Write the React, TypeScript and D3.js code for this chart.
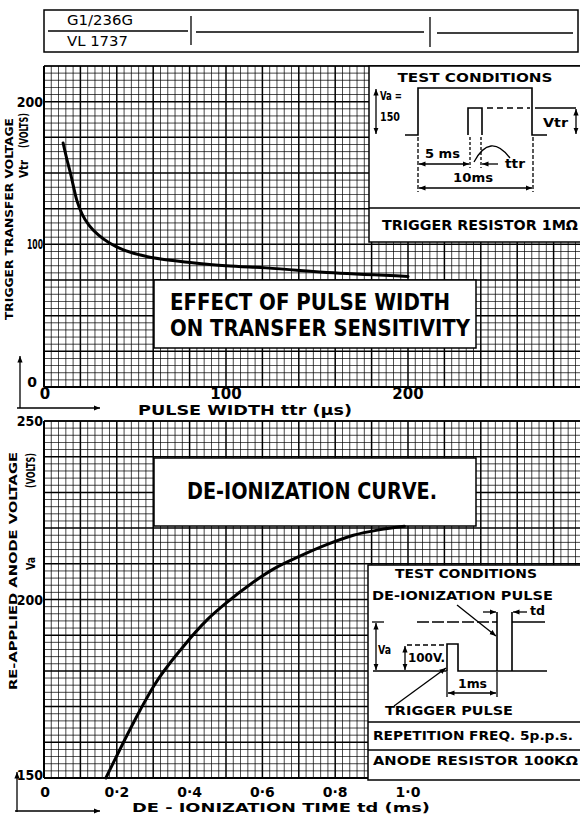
import React from "react";
import * as d3 from "d3";

// upper chart: trigger transfer voltage vs pulse width
const pulseWidth = [10.5, 12.5, 14.5, 18, 21, 25, 30, 36, 43, 53, 65, 79, 100, 122, 159, 200];
const transferVolts = [171, 160, 150, 131, 121, 113, 106.5, 101, 96.5, 92.5, 89.5, 87.5, 85, 83.5, 80, 77.5];
const topXTicks = [0, 100, 200];
const topYTicks = [100, 200];

// lower chart: de-ionization curve
const deionTime = [0.17, 0.264, 0.3, 0.38, 0.45, 0.5, 0.57, 0.63, 0.7, 0.78, 0.85, 0.92, 0.99];
const anodeVolts = [150, 169, 175.5, 186.5, 194.5, 199, 204.5, 208.5, 212, 215.5, 218, 219.5, 220.5];
const botXTicks = [0, 0.2, 0.4, 0.6, 0.8, 1.0];
const botXLabels = ["0", "0·2", "0·4", "0·6", "0·8", "1·0"];
const botYTicks = [150, 200, 250];

const W = 580;
const H = 816;
const F = "'DejaVu Sans Condensed', 'DejaVu Sans', sans-serif";
const NUM = "'DejaVu Sans', sans-serif";

const xTop = d3.scaleLinear().domain([0, 200]).range([44, 408]);
const yTop = d3.scaleLinear().domain([0, 225]).range([387, 66]);
const xBot = d3.scaleLinear().domain([0, 1]).range([44, 408]);
const yBot = d3.scaleLinear().domain([150, 250]).range([778, 421]);

function Grid({ x0, x1, y0, y1, xs, ys }: any) {
  return (
    <g>
      {xs.map((d: any, i: number) => (
        <line key={"v" + i} x1={d.p} x2={d.p} y1={y0} y2={y1}
          stroke="#000" strokeWidth={d.major ? 1.5 : 0.8} opacity={d.major ? 1 : 0.9} />
      ))}
      {ys.map((d: any, i: number) => (
        <line key={"h" + i} x1={x0} x2={x1} y1={d.p} y2={d.p}
          stroke="#000" strokeWidth={d.major ? 1.5 : 0.8} opacity={d.major ? 1 : 0.9} />
      ))}
    </g>
  );
}

function T({ x, y, s = 12, len, anchor = "start", w = "bold", fam = F, rot, children }: any) {
  return (
    <text x={x} y={y} fontSize={s} fontFamily={fam} fontWeight={w} textAnchor={anchor}
      textLength={len} lengthAdjust={len ? "spacingAndGlyphs" : undefined}
      transform={rot ? `rotate(-90 ${x} ${y})` : undefined} fill="#000">
      {children}
    </text>
  );
}

export default function App() {
  // grid lines
  const topV = d3.range(0, 75).map(i => ({ p: xTop(i * 4), major: i % 5 === 0 })).filter(d => d.p <= W);
  const topH = d3.range(0, 46).map(i => ({ p: yTop(i * 5), major: i % 5 === 0 }));
  const botV = d3.range(0, 75).map(i => ({ p: xBot(i * 0.02), major: i % 5 === 0 })).filter(d => d.p <= W);
  const botH = d3.range(0, 51).map(i => ({ p: yBot(150 + i * 2), major: i % 5 === 0 }));

  const topLine = d3.line<number>()
    .x((d, i) => xTop(pulseWidth[i]))
    .y(d => yTop(d))
    .curve(d3.curveMonotoneX);
  const botLine = d3.line<number>()
    .x((d, i) => xBot(deionTime[i]))
    .y(d => yBot(d))
    .curve(d3.curveMonotoneX);

  const ln = { stroke: "#000", strokeWidth: 1.3, fill: "none" };

  return (
    <div style={{ position: "absolute", left: 0, top: 0 }}>
      <svg width={W} height={H} viewBox={`0 0 ${W} ${H}`} style={{ display: "block", background: "#fff" }}>
        <defs>
          <marker id="ah" viewBox="0 0 10 10" refX="10" refY="5" markerWidth="5" markerHeight="5"
            orient="auto-start-reverse">
            <path d="M0,1 L10,5 L0,9 z" fill="#000" />
          </marker>
        </defs>
        <rect width={W} height={H} fill="#fff" />

        {/* header block */}
        <rect x={44} y={10} width={534} height={42} fill="none" stroke="#000" strokeWidth={1.5} />
        <line x1={48} x2={188} y1={31} y2={31} stroke="#000" strokeWidth={1.3} />
        <line x1={191} x2={191} y1={16} y2={45} stroke="#000" strokeWidth={1.3} />
        <line x1={196} x2={424} y1={32} y2={32} stroke="#000" strokeWidth={1.3} />
        <line x1={430} x2={430} y1={17} y2={47} stroke="#000" strokeWidth={1.3} />
        <line x1={437} x2={573} y1={33} y2={33} stroke="#000" strokeWidth={1.3} />
        <T x={67} y={25} s={14} w="normal" fam={NUM} len={66}>G1/236G</T>
        <T x={67} y={46} s={14} w="normal" fam={NUM} len={61}>VL 1737</T>

        {/* upper chart grid */}
        <Grid x0={44} x1={W} y0={66} y1={387} xs={topV} ys={topH} />
        <line x1={44} x2={W} y1={387} y2={387} stroke="#000" strokeWidth={2.2} />
        <line x1={44} x2={44} y1={66} y2={387} stroke="#000" strokeWidth={2} />
        <line x1={44} x2={W} y1={66} y2={66} stroke="#000" strokeWidth={1.2} />

        <path d={topLine(transferVolts) || ""} fill="none" stroke="#000" strokeWidth={3} strokeLinecap="round" />

        {/* upper test conditions inset */}
        <rect x={369} y={66} width={215} height={176} fill="#fff" stroke="#000" strokeWidth={1.5} />
        <line x1={369} x2={W} y1={208} y2={208} stroke="#000" strokeWidth={1.5} />
        <T x={475} y={82} s={13} anchor="middle" len={155}>TEST CONDITIONS</T>
        <line x1={376} x2={376} y1={89} y2={134} {...ln} markerStart="url(#ah)" markerEnd="url(#ah)" />
        <T x={380} y={100} s={12} len={22}>Va =</T>
        <T x={380} y={121} s={12} len={20}>150</T>
        <path d="M405,135 H418 V88 H532 V135 H547" fill="none" stroke="#000" strokeWidth={1.6} />
        <path d="M468,135 V108 H482 V135" fill="none" stroke="#000" strokeWidth={1.6} />
        <line x1={487} x2={530} y1={108} y2={108} {...ln} strokeDasharray="6 4" />
        <line x1={535} x2={576} y1={108} y2={108} {...ln} />
        <line x1={576} x2={576} y1={109} y2={134} {...ln} markerStart="url(#ah)" markerEnd="url(#ah)" />
        <T x={543} y={127} s={12} len={25}>Vtr</T>
        <line x1={418} x2={418} y1={137} y2={192} {...ln} strokeDasharray="4 2" />
        <line x1={533} x2={533} y1={137} y2={192} {...ln} strokeDasharray="4 2" />
        <line x1={470} x2={470} y1={137} y2={168} {...ln} strokeDasharray="3 2" />
        <line x1={481} x2={481} y1={137} y2={168} {...ln} strokeDasharray="3 2" />
        <T x={425} y={158} s={12} len={35}>5 ms</T>
        <line x1={419} x2={469} y1={164} y2={164} {...ln} markerStart="url(#ah)" markerEnd="url(#ah)" />
        <path d="M474,162 Q490,132 510,158" {...ln} />
        <line x1={498} x2={482} y1={164} y2={164} {...ln} markerEnd="url(#ah)" />
        <T x={505} y={168} s={12} len={20}>ttr</T>
        <T x={453} y={182} s={12} len={40}>10ms</T>
        <line x1={419} x2={532} y1={188} y2={188} {...ln} markerStart="url(#ah)" markerEnd="url(#ah)" />
        <T x={382} y={230} s={14} len={196}>TRIGGER RESISTOR 1MΩ</T>

        {/* upper title box */}
        <rect x={154} y={280} width={322} height={68} fill="#fff" stroke="#000" strokeWidth={1.5} />
        <T x={170} y={310} s={23} len={280}>EFFECT OF PULSE WIDTH</T>
        <T x={170} y={336} s={23} len={300}>ON TRANSFER SENSITIVITY</T>

        {/* upper axes labels */}
        {topXTicks.map(v => (
          <T key={"tx" + v} x={xTop(v) + (v === 0 ? 1 : 0)} y={399} s={15} anchor="middle" fam={NUM}>{v}</T>
        ))}
        {topYTicks.map(v => (
          <T key={"ty" + v} x={43} y={yTop(v) + 5} s={14} anchor="end"
            len={v === 100 ? 16 : undefined}>{v}</T>
        ))}
        <T x={32} y={yTop(0)} s={14} anchor="middle" fam={NUM}>0</T>
        <T x={138} y={415} s={14} len={214}>PULSE WIDTH  ttr  (µs)</T>
        <line x1={20} x2={20} y1={408} y2={356} {...ln} markerEnd="url(#ah)" />
        <line x1={17} x2={100} y1={408} y2={408} {...ln} markerEnd="url(#ah)" />
        <T x={12.5} y={320} s={11} rot len={202}>TRIGGER  TRANSFER  VOLTAGE</T>
        <T x={28} y={178} s={12} rot len={18}>Vtr</T>
        <T x={28} y={148} s={12} rot len={35}>(VOLTS)</T>

        {/* lower chart grid */}
        <Grid x0={44} x1={W} y0={421} y1={778} xs={botV} ys={botH} />
        <line x1={44} x2={W} y1={778} y2={778} stroke="#000" strokeWidth={2.2} />
        <line x1={44} x2={44} y1={421} y2={778} stroke="#000" strokeWidth={2} />
        <line x1={44} x2={W} y1={421} y2={421} stroke="#000" strokeWidth={1.5} />

        {/* lower title box */}
        <rect x={154} y={458} width={322} height={68} fill="#fff" stroke="#000" strokeWidth={1.5} />
        <T x={187} y={499} s={23} len={250}>DE-IONIZATION  CURVE.</T>

        <path d={botLine(anodeVolts) || ""} fill="none" stroke="#000" strokeWidth={3} strokeLinecap="round" />

        {/* lower test conditions inset */}
        <rect x={368} y={565} width={216} height={215} fill="#fff" stroke="#000" strokeWidth={1.5} />
        <line x1={368} x2={W} y1={722} y2={722} stroke="#000" strokeWidth={1.5} />
        <line x1={368} x2={W} y1={750} y2={750} stroke="#000" strokeWidth={1.5} />
        <T x={395} y={578} s={13} len={142}>TEST CONDITIONS</T>
        <T x={372} y={600} s={13} len={181}>DE-IONIZATION PULSE</T>
        <line x1={376} x2={376} y1={623} y2={670} {...ln} markerStart="url(#ah)" markerEnd="url(#ah)" />
        <line x1={372} x2={384} y1={622} y2={622} {...ln} />
        <T x={378} y={654} s={12} len={13}>Va</T>
        <line x1={417} x2={497} y1={622} y2={622} {...ln} strokeDasharray="12 3" />
        <line x1={512} x2={545} y1={622} y2={622} stroke="#000" strokeWidth={1.6} />
        <path d="M373,671 H447 V644 H458 V671 H497 V612 M497,671 H512 V612 M512,671 H547" fill="none" stroke="#000" strokeWidth={1.6} />
        <line x1={405} x2={405} y1={646} y2={670} {...ln} markerStart="url(#ah)" markerEnd="url(#ah)" />
        <line x1={407} x2={446} y1={645} y2={645} {...ln} strokeDasharray="5 3" />
        <T x={408} y={662} s={12} len={37}>100V.</T>
        <line x1={483} x2={496} y1={612} y2={612} {...ln} markerEnd="url(#ah)" />
        <line x1={527} x2={513} y1={612} y2={612} {...ln} markerEnd="url(#ah)" />
        <T x={530} y={615} s={12} len={15}>td</T>
        <path d="M457,605 L496,636" {...ln} markerEnd="url(#ah)" />
        <line x1={447} x2={447} y1={672} y2={697} {...ln} />
        <line x1={497} x2={497} y1={672} y2={697} {...ln} />
        <line x1={448} x2={496} y1={693} y2={693} {...ln} markerStart="url(#ah)" markerEnd="url(#ah)" />
        <T x={458} y={688} s={12} len={29}>1ms</T>
        <path d="M394,706 L446,668" {...ln} markerEnd="url(#ah)" />
        <T x={385} y={715} s={13} len={128}>TRIGGER PULSE</T>
        <T x={373} y={740} s={13} len={200}>REPETITION FREQ. 5p.p.s.</T>
        <T x={373} y={765} s={13} len={205}>ANODE RESISTOR 100KΩ</T>

        {/* lower axes labels */}
        {botXTicks.map((v, i) => (
          <T key={"bx" + i} x={xBot(v) + (i === 0 ? 1 : 0)} y={797} s={14} anchor="middle" fam={NUM}>
            {botXLabels[i]}
          </T>
        ))}
        {botYTicks.map(v => (
          <T key={"by" + v} x={43} y={yBot(v) + (v === 150 ? 2 : 5)} s={14} anchor="end">{v}</T>
        ))}
        <T x={132} y={812} s={13} len={298}>DE - IONIZATION    TIME   td   (ms)</T>
        <line x1={17} x2={17} y1={812} y2={772} {...ln} markerEnd="url(#ah)" />
        <line x1={15} x2={100} y1={811} y2={811} {...ln} markerEnd="url(#ah)" />
        <T x={17} y={690} s={11} rot len={238}>RE-APPLIED  ANODE  VOLTAGE</T>
        <T x={35} y={570} s={12} rot len={13}>Va</T>
        <T x={35} y={488} s={12} rot len={35}>(VOLTS)</T>
      </svg>
    </div>
  );
}
